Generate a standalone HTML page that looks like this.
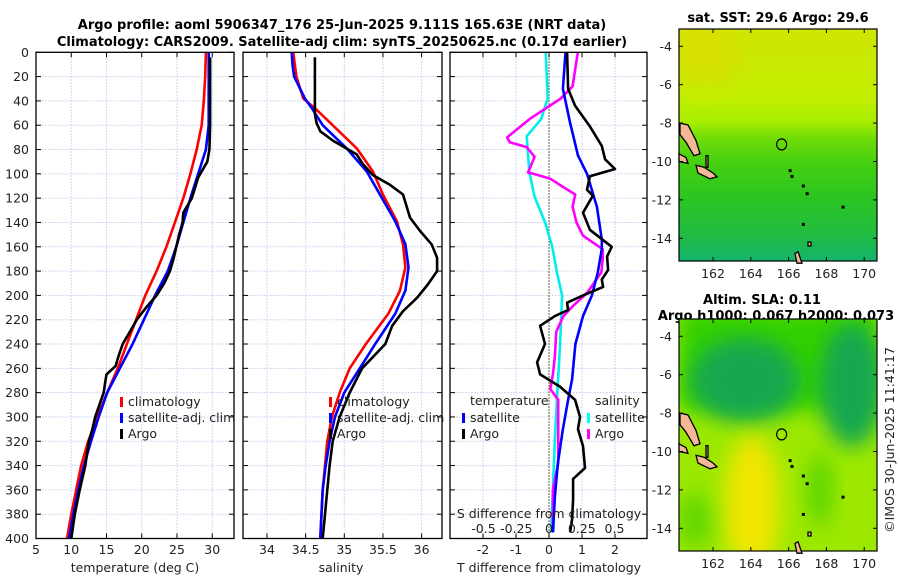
<!DOCTYPE html>
<html><head><meta charset="utf-8"><style>
html,body{margin:0;padding:0;background:#fff;}
svg{display:block;font-family:"DejaVu Sans","Liberation Sans",sans-serif;}
.t{font-size:12.5px;fill:#222;}
.b{font-weight:bold;font-size:13px;fill:#000;}
</style></head><body>
<svg id="chart" width="900" height="580" viewBox="0 0 900 580" xmlns="http://www.w3.org/2000/svg">
<defs>
<filter id="blur" x="-50%" y="-50%" width="200%" height="200%"><feGaussianBlur stdDeviation="10"/></filter>
<linearGradient id="sstg" x1="0" y1="0" x2="0" y2="1">
<stop offset="0" stop-color="#cfe600"/><stop offset="0.3" stop-color="#c2ee00"/><stop offset="0.4" stop-color="#a8ee00"/>
<stop offset="0.47" stop-color="#70dc08"/><stop offset="0.58" stop-color="#44d010"/><stop offset="0.72" stop-color="#2cc620"/>
<stop offset="0.88" stop-color="#22bc40"/><stop offset="1" stop-color="#12b46c"/></linearGradient>
<clipPath id="c1"><rect x="679" y="29" width="198" height="232"/></clipPath>
<clipPath id="c2"><rect x="679" y="319" width="198" height="232"/></clipPath>
</defs>
<text class="b" x="342" y="29" text-anchor="middle">Argo profile: aoml 5906347_176 25-Jun-2025 9.111S 165.63E (NRT data)</text>
<text class="b" x="342" y="46" text-anchor="middle">Climatology: CARS2009. Satellite-adj clim: synTS_20250625.nc (0.17d earlier)</text>
<g id="grid"></g>
<g id="marks"></g>
<g id="axes"></g>
<g class="t">
<rect x="120" y="397" width="3" height="10" fill="#f00"/><text x="128" y="406">climatology</text>
<rect x="120" y="413" width="3" height="10" fill="#00f"/><text x="128" y="422">satellite-adj. clim</text>
<rect x="120" y="429" width="3" height="10" fill="#000"/><text x="128" y="438">Argo</text>
</g>
<g class="t">
<rect x="329" y="397" width="3" height="10" fill="#f00"/><text x="337" y="406">climatology</text>
<rect x="329" y="413" width="3" height="10" fill="#00f"/><text x="337" y="422">satellite-adj. clim</text>
<rect x="329" y="429" width="3" height="10" fill="#000"/><text x="337" y="438">Argo</text>
</g>
<g class="t">
<text x="470" y="405">temperature</text>
<rect x="462" y="413" width="3" height="10" fill="#00f"/><text x="470" y="422">satellite</text>
<rect x="462" y="429" width="3" height="10" fill="#000"/><text x="470" y="438">Argo</text>
<text x="595" y="405">salinity</text>
<rect x="587" y="413" width="3" height="10" fill="#0ff"/><text x="595" y="422">satellite</text>
<rect x="587" y="429" width="3" height="10" fill="#f0f"/><text x="595" y="438">Argo</text>
</g>
<text class="t" x="549" y="518" text-anchor="middle">S difference from climatology</text>
<text class="t" x="135" y="572" text-anchor="middle">temperature (deg C)</text>
<text class="t" x="341" y="572" text-anchor="middle">salinity</text>
<text class="t" x="549" y="572" text-anchor="middle">T difference from climatology</text>

<text class="b" x="778" y="22" text-anchor="middle">sat. SST: 29.6 Argo: 29.6</text>
<g clip-path="url(#c1)">
<rect x="679" y="29" width="198" height="232" fill="url(#sstg)"/>
<ellipse cx="705" cy="55" rx="35" ry="30" fill="#e0dc00" opacity="0.6" filter="url(#blur)"/>
</g>
<text class="b" x="762" y="304" text-anchor="middle">Altim. SLA: 0.11</text>
<text class="b" x="776" y="320" text-anchor="middle">Argo h1000: 0.067 h2000: 0.073</text>
<g clip-path="url(#c2)">
<rect x="679" y="319" width="198" height="232" fill="#9ce800"/>
<rect x="679" y="310" width="198" height="100" fill="#30d000" filter="url(#blur)"/>
<ellipse cx="745" cy="380" rx="55" ry="42" fill="#18a850" filter="url(#blur)"/>
<ellipse cx="852" cy="385" rx="32" ry="62" fill="#18a850" filter="url(#blur)"/>
<ellipse cx="752" cy="505" rx="28" ry="70" fill="#f0e600" filter="url(#blur)"/>
<ellipse cx="820" cy="490" rx="12" ry="36" fill="#58d400" filter="url(#blur)"/>
<ellipse cx="695" cy="520" rx="16" ry="28" fill="#60d600" filter="url(#blur)"/>
</g>
<g id="maps"></g>
<text class="t" transform="translate(894,440) rotate(-90)" text-anchor="middle">©IMOS 30-Jun-2025 11:41:17</text>
</svg>
<script>
const tPres = [0, 20, 40, 60, 80, 100, 120, 140, 160, 180, 200, 220, 240, 260, 280, 300, 320, 340, 360, 380, 400];
const tClim = [29.1, 29.0, 28.8, 28.5, 27.8, 26.9, 25.9, 24.7, 23.5, 22.1, 20.5, 19.2, 17.9, 16.6, 15.1, 13.7, 12.4, 11.4, 10.7, 10.0, 9.4];
const tSat  = [29.5, 29.5, 29.5, 29.5, 29.1, 28.0, 26.9, 25.9, 24.9, 23.7, 21.9, 20.3, 18.7, 16.9, 15.1, 13.9, 12.8, 11.8, 11.0, 10.3, 9.7];
const argoTPres = [4, 20, 40, 60, 80, 90, 103, 120, 132, 140, 150, 160, 170, 180, 190, 200, 210, 220, 230, 240, 250, 258, 265, 272, 280, 290, 300, 310, 320, 340, 360, 380, 400];
const argoT = [29.7, 29.7, 29.7, 29.7, 29.6, 29.3, 28.0, 27.1, 25.9, 25.8, 25.3, 24.9, 24.5, 24.0, 23.2, 22.1, 20.6, 19.3, 18.3, 17.3, 16.7, 16.3, 15.0, 14.8, 14.6, 14.0, 13.4, 13.0, 12.5, 12.0, 11.2, 10.5, 10.0];
const sPres = [0, 10, 20, 38, 46, 60, 79, 98, 117, 139, 158, 177, 196, 215, 240, 260, 280, 300, 320, 340, 360, 400];
const sClim = [34.34, 34.36, 34.38, 34.47, 34.62, 34.85, 35.16, 35.37, 35.50, 35.68, 35.76, 35.79, 35.72, 35.57, 35.28, 35.07, 34.94, 34.84, 34.78, 34.75, 34.72, 34.69];
const sSat  = [34.32, 34.33, 34.35, 34.49, 34.58, 34.72, 35.03, 35.29, 35.46, 35.66, 35.79, 35.83, 35.79, 35.66, 35.40, 35.20, 35.00, 34.88, 34.81, 34.76, 34.72, 34.69];
const argoSPres = [4, 20, 40, 51, 58, 65, 73, 84, 92, 101, 109, 117, 136, 147, 158, 169, 180, 191, 202, 213, 225, 240, 260, 280, 300, 320, 340, 360, 380, 400];
const argoS = [34.62, 34.62, 34.62, 34.62, 34.64, 34.69, 34.86, 35.16, 35.24, 35.37, 35.59, 35.76, 35.85, 35.98, 36.13, 36.20, 36.20, 36.08, 35.94, 35.76, 35.62, 35.53, 35.23, 35.07, 34.94, 34.85, 34.81, 34.78, 34.75, 34.72];
const dPres = [0, 30, 58, 85, 100, 127, 154, 162, 181, 200, 217, 240, 269, 286, 310, 338, 365, 395];
const dTSat = [0.5, 0.42, 0.64, 0.88, 1.15, 1.45, 1.6, 1.6, 1.48, 1.3, 1.03, 0.8, 0.7, 0.58, 0.42, 0.27, 0.18, 0.12];
const dTPres = [0, 30, 44, 61, 77, 88, 96, 102, 113, 118, 132, 146, 160, 168, 179, 187, 193, 200, 206, 212, 217, 225, 240, 255, 265, 275, 286, 300, 310, 324, 342, 351, 368, 384, 395];
const dTArgo = [0.55, 0.58, 0.79, 1.24, 1.6, 1.7, 2.0, 1.24, 1.15, 1.33, 1.03, 1.24, 1.9, 1.76, 1.79, 1.6, 1.64, 1.03, 0.55, 0.58, 0.18, -0.27, -0.12, -0.36, -0.27, 0.33, 0.79, 0.94, 0.88, 1.03, 1.09, 0.73, 0.73, 0.7, 0.64];
const dSSatPres = [0, 38, 55, 69, 99, 119, 140, 160, 181, 200, 240, 286, 318, 360, 395];
const dSSat = [-0.025, -0.01, -0.06, -0.17, -0.15, -0.11, -0.03, 0.025, 0.06, 0.1, 0.085, 0.06, 0.045, 0.03, 0.015];
const dSArgoPres = [0, 28, 38, 55, 70, 74, 78, 86, 99, 100, 104, 111, 117, 127, 140, 151, 162, 170, 181, 198, 209, 217, 230, 250, 265, 277, 286, 310, 338, 360, 395];
const dSArgo = [0.22, 0.18, 0.09, -0.15, -0.32, -0.3, -0.17, -0.11, -0.16, -0.12, 0.01, 0.11, 0.2, 0.18, 0.21, 0.26, 0.41, 0.41, 0.4, 0.29, 0.18, 0.11, 0.055, 0.045, 0.03, 0.01, 0.07, 0.07, 0.07, 0.03, 0.03];
const yTicks = [0,20,40,60,80,100,120,140,160,180,200,220,240,260,280,300,320,340,360,380,400];
const tTicks = [5,10,15,20,25,30];
const sTicks = [34,34.5,35,35.5,36];
const sTickLabels = ['34','34.5','35','35.5','36'];
const dTTicks = [-2,-1,0,1,2];
const dSTicks = [-0.5,-0.25,0,0.25,0.5];
const dSTickLabels = ['-0.5','-0.25','0','0.25','0.5'];
const lonTicks = [162,164,166,168,170];
const latTicks = [-4,-6,-8,-10,-12,-14];
const argoLon = 165.63, argoLat = -9.111;

const TOP = 52.3, BOT = 538.5;
const yP = p => TOP + p * (BOT - TOP) / 400;
const xT = t => 36 + (t - 5) * 7.05;
const xS = s => 267 + (s - 34) * 77.3;
const xD = d => 549 + d * 33;
const xSd = s => 549 + s * 131;
const panels = [[36,234],[243,442],[450,647]];
const mapX = lon => 679 + (lon - 160.2) * 18.9;
const mapY = (lat, top) => top + (-3.1 - lat) * 19.2;

const NS = 'http://www.w3.org/2000/svg';
function mk(tag, attrs, parent) {
  const e = document.createElementNS(NS, tag);
  for (const k in attrs) e.setAttribute(k, attrs[k]);
  parent.appendChild(e);
  return e;
}
const grid = document.getElementById('grid');
const marks = document.getElementById('marks');
const axes = document.getElementById('axes');
const maps = document.getElementById('maps');

panels.forEach(([a, b]) => {
  yTicks.forEach(p => {
    const g = mk('line', {x1:a, x2:b, y1:yP(p), y2:yP(p), stroke:'#c4cde8', 'stroke-dasharray':'1.5,1.5', 'stroke-width':1}, grid);
    
    
  });
});
function vgrid(xs, fn) {
  xs.forEach(v => {
    const g = mk('line', {x1:fn(v), x2:fn(v), y1:TOP, y2:BOT, stroke:'#c4cde8', 'stroke-dasharray':'1.5,1.5', 'stroke-width':1}, grid);
    
    
  });
}
vgrid(tTicks, xT); vgrid(sTicks, xS); vgrid(dTTicks, xD);
const zl = mk('line', {x1:xD(0), x2:xD(0), y1:TOP, y2:BOT, stroke:'#555533', 'stroke-dasharray':'1.5,1.5', 'stroke-width':1.2}, grid);



function line(xs, ps, fx, color, name) {
  const d = xs.map((v, i) => (i ? 'L' : 'M') + fx(v).toFixed(1) + ',' + yP(ps[i]).toFixed(1)).join('');
  const e = mk('path', {d:d, fill:'none', stroke:color, 'stroke-width':2.6, 'stroke-linejoin':'round'}, marks);
  
  
}
line(tClim, tPres, xT, '#f00', 'temperature-climatology-line');
line(tSat, tPres, xT, '#00f', 'temperature-satellite-line');
line(argoT, argoTPres, xT, '#000', 'temperature-argo-line');
line(sClim, sPres, xS, '#f00', 'salinity-climatology-line');
line(sSat, sPres, xS, '#00f', 'salinity-satellite-line');
line(argoS, argoSPres, xS, '#000', 'salinity-argo-line');
line(dSSat, dSSatPres, xSd, '#0ee', 'salinity-satellite-diff-line');
line(dSArgo, dSArgoPres, xSd, '#f0f', 'salinity-argo-diff-line');
line(dTSat, dPres, xD, '#00f', 'temperature-satellite-diff-line');
line(dTArgo, dTPres, xD, '#000', 'temperature-argo-diff-line');

panels.forEach(([a, b], i) => {
  const f = mk('rect', {x:a, y:TOP, width:b - a, height:BOT - TOP, fill:'none', stroke:'#000', 'stroke-width':1.3}, axes);
  
  
  yTicks.forEach(p => {
    const t1 = mk('line', {x1:a, x2:a + 5, y1:yP(p), y2:yP(p), stroke:'#000'}, axes);
    
    
    const t2 = mk('line', {x1:b - 5, x2:b, y1:yP(p), y2:yP(p), stroke:'#000'}, axes);
    
    
  });
});
yTicks.forEach(p => {
  const l = mk('text', {x:29, y:yP(p) + 4.5, 'text-anchor':'end', class:'t'}, axes);
  l.textContent = p;
  
  
});
function xticks(vals, labels, fn, y, inner) {
  vals.forEach((v, i) => {
    if (inner !== false) {
      const t1 = mk('line', {x1:fn(v), x2:fn(v), y1:BOT - 5, y2:BOT, stroke:'#000'}, axes);
      
      
      const t2 = mk('line', {x1:fn(v), x2:fn(v), y1:TOP, y2:TOP + 5, stroke:'#000'}, axes);
      
      
    }
    const l = mk('text', {x:fn(v), y:y, 'text-anchor':'middle', class:'t'}, axes);
    l.textContent = labels[i];
    
    
  });
}
xticks(tTicks, tTicks.map(String), xT, 554);
xticks(sTicks, sTickLabels, xS, 554);
xticks(dTTicks, dTTicks.map(String), xD, 554);
xticks(dSTicks, dSTickLabels, xSd, 533, false);

[29, 319].forEach((top, mi) => {
  const bot = top + 232;
  const fr = mk('rect', {x:679, y:top, width:198, height:232, fill:'none', stroke:'#000', 'stroke-width':1.2}, maps);
  
  
  const isl = [
    [[680,-8.0],[688,-8.1],[696,-8.9],[700,-9.6],[694,-9.7],[686,-9.0],[680,-8.6]],
    [[679,-9.6],[686,-9.8],[688,-10.1],[679,-10.0]],
    [[696,-10.2],[704,-10.3],[713,-10.6],[717,-10.8],[710,-10.9],[698,-10.6]],
    [[706,-9.7],[708,-9.7],[708,-10.3],[706,-10.3]],
    [[795,-14.8],[798,-14.7],[802,-15.3],[797,-15.3]],
    [[808,-14.2],[811,-14.2],[811,-14.4],[808,-14.4]]
  ];
  isl.forEach(poly => {
    const pg = mk('polygon', {points:poly.map(q => q[0] + ',' + mapY(q[1], top).toFixed(1)).join(' '), fill:'#f4b896', stroke:'#000', 'stroke-width':1.3}, maps);
    
    
  });
  [[166.1,-10.7],[166.7,-11.2],[166.9,-11.6],[166.7,-13.2],[168.8,-12.3],[166,-10.4]].forEach(q => {
    const dt = mk('rect', {x:mapX(q[0]), y:mapY(q[1], top), width:3, height:3, fill:'#000'}, maps);
    
    
  });
  const c = mk('ellipse', {cx:mapX(argoLon), cy:mapY(argoLat, top), rx:5, ry:5.5, fill:'none', stroke:'#000', 'stroke-width':1.2}, maps);
  
  
  lonTicks.forEach(v => {
    const t = mk('line', {x1:mapX(v), x2:mapX(v), y1:bot - 4, y2:bot, stroke:'#000'}, maps);
    
    
    const t2 = mk('line', {x1:mapX(v), x2:mapX(v), y1:top, y2:top + 4, stroke:'#000'}, maps);
    
    
    const l = mk('text', {x:mapX(v), y:bot + 17, 'text-anchor':'middle', class:'t'}, maps);
    l.textContent = v;
    
    
  });
  latTicks.forEach(v => {
    const t = mk('line', {x1:679, x2:683, y1:mapY(v, top), y2:mapY(v, top), stroke:'#000'}, maps);
    
    
    const t2 = mk('line', {x1:873, x2:877, y1:mapY(v, top), y2:mapY(v, top), stroke:'#000'}, maps);
    
    
    const l = mk('text', {x:672, y:mapY(v, top) + 4.5, 'text-anchor':'end', class:'t'}, maps);
    l.textContent = v;
    
    
  });
});
</script>
</body></html>
